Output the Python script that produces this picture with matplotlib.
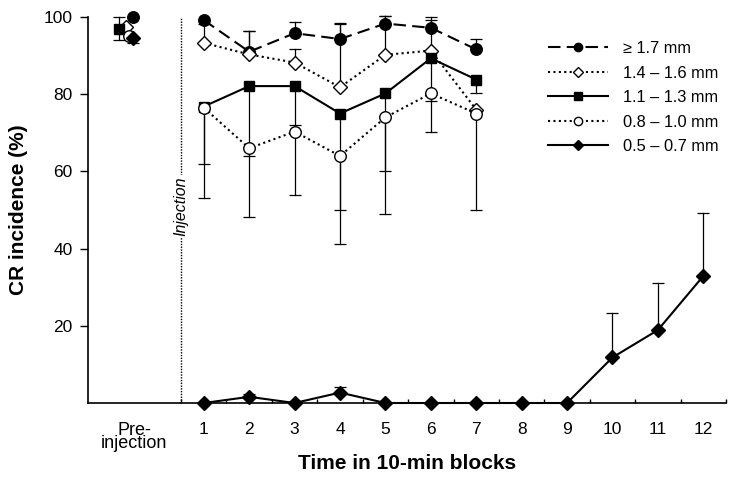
import matplotlib
matplotlib.use("Agg")
import matplotlib.pyplot as plt
from matplotlib import font_manager

# values (CR incidence, %)
blocks = [1, 2, 3, 4, 5, 6, 7, 8, 9, 10, 11, 12]
tick_labels = ["Pre-\ninjection"] + [str(b) for b in blocks]
series_labels = ["\u2265 1.7 mm", "1.4 \u2013 1.6 mm", "1.1 \u2013 1.3 mm",
                 "0.8 \u2013 1.0 mm", "0.5 \u2013 0.7 mm"]

pre_values = [100, 97.5, 97, 95, 94.5]
pre_err_lo = [0, 0, 3, 0, 1.3]
pre_err_hi = [0, 0, 3, 0, 0]

s17 = [99.2, 91, 95.8, 94.3, 98.3, 97.2, 91.6]
s17_hi = [0, 5.4, 3, 4.1, 2, 2.8, 2.6]
s14 = [93.3, 90.3, 88.2, 81.8, 90.2, 91.3, 76]
s14_hi = [5, 6, 3.4, 16.5, 10, 8, 0]
s11 = [76.8, 82.1, 82.1, 75, 80.2, 89.3, 83.8]
s11_lo = [15, 18, 10, 25, 20, 11, 3.6]
s08 = [76.5, 66, 70.3, 64, 74, 80.2, 75]
s08_lo = [23.5, 17.7, 16.4, 22.8, 25, 10, 25]
s05 = [0, 1.6, 0, 2.7, 0, 0, 0, 0, 0, 11.8, 18.9, 32.9]
s05_hi = [0, 0.8, 0, 1.4, 0, 0, 0, 0, 0, 11.4, 12.3, 16.4]

installed = {f.name for f in font_manager.fontManager.ttflist}
base_font = "Liberation Sans" if "Liberation Sans" in installed else "DejaVu Sans"
narrow_font = "Liberation Sans Narrow" if "Liberation Sans Narrow" in installed else base_font
plt.rcParams["font.family"] = [base_font, "DejaVu Sans"]


def err_bars(ax, x, y, lo, hi):
    # one-sided error bars, drawn only where the error is non-zero
    for xi, yi, l, h in zip(x, y, lo, hi):
        ends = []
        if l > 0:
            ends.append(yi - l)
        if h > 0:
            ends.append(yi + h)
        for e in ends:
            ax.plot([xi, xi], [yi, e], color="black", lw=0.9, zorder=2, clip_on=False)
            ax.plot([xi], [e], marker="_", ms=9, mew=0.9, color="black",
                    zorder=2, clip_on=False)


fig = plt.figure(figsize=(7.46, 4.88), dpi=100)
ax = fig.add_axes([88 / 746, 85 / 488, 638 / 746, 386 / 488])

dash = (0, (6, 3))
dot = (0, (1, 1.6))
styles = [
    dict(ls=dash, marker="o", mfc="black"),
    dict(ls=dot, marker="D", mfc="white", ms=6.8),
    dict(ls="-", marker="s", mfc="black", ms=7.2),
    dict(ls=dot, marker="o", mfc="white"),
    dict(ls="-", marker="D", mfc="black", ms=6.8),
]
pre_pos = [-0.56, -0.71, -0.86, -0.65, -0.56]
post = [(s17, [0] * 7, s17_hi), (s14, [0] * 7, s14_hi), (s11, s11_lo, [0] * 7),
        (s08, s08_lo, [0] * 7), (s05, [0] * 12, s05_hi)]

handles = []
for i, (vals, lo, hi) in enumerate(post):
    st = dict(color="black", lw=1.5, ms=8.3, mec="black", mew=1.0)
    st.update(styles[i])
    xs = blocks[:len(vals)]
    err_bars(ax, xs, vals, lo, hi)
    err_bars(ax, [pre_pos[i]], [pre_values[i]], [pre_err_lo[i]], [pre_err_hi[i]])
    line, = ax.plot(xs, vals, zorder=3, clip_on=False, label=series_labels[i], **st)
    st_pre = dict(st)
    st_pre["ls"] = "none"
    ax.plot([pre_pos[i]], [pre_values[i]], zorder=3, clip_on=False, **st_pre)
    handles.append(line)

# injection marker
ax.plot([0.5, 0.5], [0, 100], color="black", lw=1.0, ls=(0, (1, 1)), zorder=1)
ax.text(0.5, 51, "Injection", rotation=90, ha="center", va="center",
        fontsize=11.5, style="italic", zorder=1.5,
        bbox=dict(facecolor="white", edgecolor="none", pad=1))

ax.set_xlim(-1.55, 12.5)
ax.set_ylim(0, 100)
ax.spines["top"].set_visible(False)
ax.spines["right"].set_visible(False)
ax.spines["left"].set_linewidth(1.2)
ax.spines["bottom"].set_linewidth(1.2)

ax.set_yticks([20, 40, 60, 80, 100])
ax.tick_params(axis="y", direction="out", length=6, width=1, labelsize=12.5, pad=5)
ax.set_xticks([-0.53] + blocks)
ax.set_xticklabels(tick_labels)
ax.set_xticks([b + 0.5 for b in range(0, 13)], minor=True)
ax.tick_params(axis="x", which="major", length=0, labelsize=12.5, pad=14)
ax.tick_params(axis="x", which="minor", direction="in", length=3, width=1)
pre_lab = ax.get_xticklabels()[0]
pre_lab.set_linespacing(0.68)
pre_lab.set_fontfamily(narrow_font)
pre_lab.set_fontsize(13)

ax.set_ylabel("CR incidence (%)", fontsize=15, fontweight="bold")
ax.set_xlabel("Time in 10-min blocks", fontsize=15, fontweight="bold", va="top")
ax.yaxis.set_label_coords(-0.094, 0.5)
ax.xaxis.set_label_coords(0.5, -0.132)

fig.legend(handles=handles, loc="upper left", bbox_to_anchor=(548 / 746, 1 - 41 / 488),
           bbox_transform=fig.transFigure, frameon=False, fontsize=11.8,
           handlelength=3.65, handletextpad=0.95, labelspacing=0.58,
           borderpad=0, borderaxespad=0, markerscale=0.72)

fig.savefig("out.png", dpi=100)
